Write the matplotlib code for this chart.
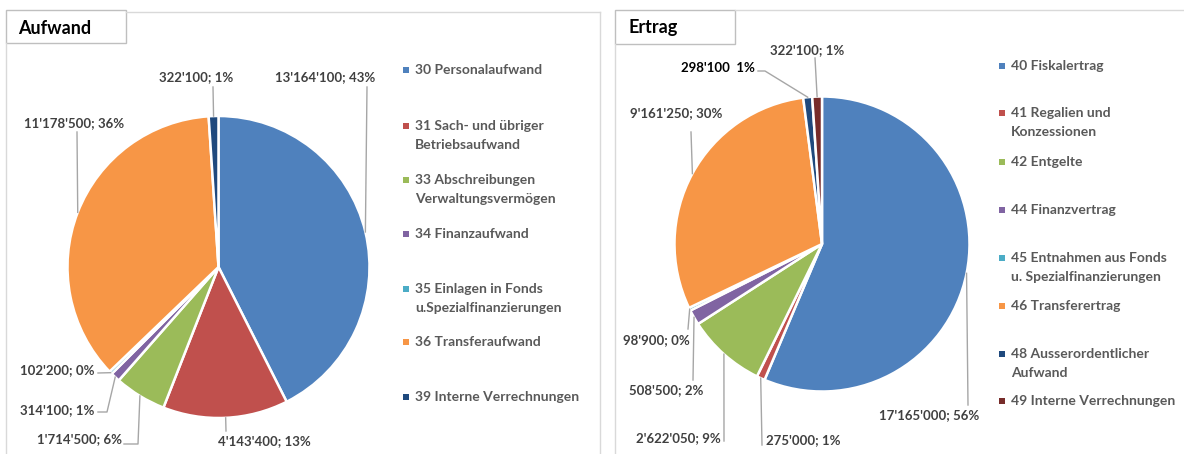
import matplotlib.pyplot as plt
from matplotlib.patches import Rectangle
import numpy as np

plt.rcParams['font.family'] = ['Lato', 'DejaVu Sans']

W, H = 1184, 454

# --- Daten ---
aufwand_names = ["30 Personalaufwand", "31 Sach- und übriger\nBetriebsaufwand",
                 "33 Abschreibungen\nVerwaltungsvermögen", "34 Finanzaufwand",
                 "35 Einlagen in Fonds\nu.Spezialfinanzierungen", "36 Transferaufwand",
                 "39 Interne Verrechnungen"]
aufwand_values = [13164100, 4143400, 1714500, 314100, 102200, 11178500, 322100]
aufwand_colors = ["#4F81BD", "#C0504D", "#9BBB59", "#8064A2", "#4BACC6", "#F79646", "#1F497D"]

ertrag_names = ["40 Fiskalertrag", "41 Regalien und\nKonzessionen", "42 Entgelte",
                "44 Finanzvertrag", "45 Entnahmen aus Fonds\nu. Spezialfinanzierungen",
                "46 Transferertrag", "48 Ausserordentlicher\nAufwand", "49 Interne Verrechnungen"]
ertrag_values = [17165000, 275000, 2622050, 508500, 98900, 9161250, 298100, 322100]
ertrag_colors = ["#4F81BD", "#C0504D", "#9BBB59", "#8064A2", "#4BACC6", "#F79646", "#1F497D", "#772C2A"]
ertrag_sep = ["; ", "; ", "; ", "; ", "; ", "; ", "  ", "; "]

# --- Layout (Pixel) ---
# Labelposition (x, y, ha) und Knickpunkte der Führungslinie
auf_lbl = [((325, 77, 'center'), [(367, 87)]),
           ((264, 441, 'center'), [(226, 431)]),
           ((122, 439, 'right'), [(124, 444), (138, 444)]),
           ((94, 410, 'right'), [(98, 412), (107, 412)]),
           ((94, 370, 'right'), [(98, 373)]),
           ((74, 123, 'center'), [(77, 132)]),
           ((196, 77, 'center'), [(213, 87)])]
ert_lbl = [((929, 415, 'center'), [(968, 405)]),
           ((766, 440, 'left'), [(762, 445)]),
           ((721, 438, 'right'), [(724, 441)]),
           ((703, 390, 'right'), [(693, 380)]),
           ((690, 340, 'right'), [(688, 329)]),
           ((676, 113, 'center'), [(691, 132)]),
           ((755, 68, 'right'), [(758, 71), (765, 71)]),
           ((807, 50, 'center'), [(815, 58)])]
auf_leg_y = [70, 126, 180, 234, 289, 342, 397]
ert_leg_y = [66, 113, 162, 210, 258, 306, 354, 401]

fig = plt.figure(figsize=(11.84, 4.54), dpi=100)


def fmt(v, total, sep="; "):
    return f"{v:,}".replace(",", "'") + sep + f"{round(100 * v / total)}%"


def draw_pie(cx, cy, r, values, colors):
    ax = fig.add_axes([(cx - r) / W, 1 - (cy + r) / H, 2 * r / W, 2 * r / H])
    wedges, _ = ax.pie(values, colors=colors, startangle=90, counterclock=False,
                       wedgeprops=dict(edgecolor='white', linewidth=1.8))
    ax.set_xlim(-1, 1)
    ax.set_ylim(-1, 1)
    mids = []
    for w in wedges:
        w.set_clip_on(False)
        a = np.deg2rad((w.theta1 + w.theta2) / 2)
        mids.append((cx + r * np.cos(a), cy - r * np.sin(a)))
    return mids


auf_mids = draw_pie(218.5, 267, 151, aufwand_values, aufwand_colors)
ert_mids = draw_pie(822, 244, 147.5, ertrag_values, ertrag_colors)

ov = fig.add_axes([0, 0, 1, 1])
ov.set_xlim(0, W)
ov.set_ylim(H, 0)
ov.axis('off')
ov.patch.set_visible(False)

# Rahmen
frame = "#D9D9D9"
ov.plot([6, 6], [43, H], color=frame, lw=1)
ov.plot([126, 600], [12, 12], color=frame, lw=1)
ov.plot([600, 600], [12, H], color=frame, lw=1)
ov.plot([615, 615], [44, H], color=frame, lw=1)
ov.plot([735, W], [10, 10], color=frame, lw=1)
ov.add_patch(Rectangle((6, 10), 120, 33, facecolor='white', edgecolor="#BFBFBF", lw=1))
ov.add_patch(Rectangle((615, 10), 120, 34, facecolor='white', edgecolor="#BFBFBF", lw=1))
ov.text(18, 28, "Aufwand", fontsize=13, fontweight='bold', va='center', color='black')
ov.text(628, 28, "Ertrag", fontsize=13, fontweight='bold', va='center', color='black')


def labels(mids, values, lbls, seps=None):
    total = sum(values)
    for i, ((x, y, ha), pts) in enumerate(lbls):
        sep = seps[i] if seps else "; "
        col = 'black' if sep == "  " else "#404040"
        ov.text(x, y, fmt(values[i], total, sep), fontsize=9.5, fontweight='bold',
                ha=ha, va='center', color=col)
        path = pts + [mids[i]]
        ov.plot([p[0] for p in path], [p[1] for p in path], color="#A6A6A6", lw=1)


def legend(names, colors, ys, mx, tx):
    for name, c, y in zip(names, colors, ys):
        ov.add_patch(Rectangle((mx - 3, y - 3), 6, 6, facecolor=c, edgecolor='none'))
        for j, line in enumerate(name.split("\n")):
            ov.text(tx, y + j * 19, line, fontsize=10, fontweight='bold',
                    va='center', color="#595959")


labels(auf_mids, aufwand_values, auf_lbl)
labels(ert_mids, ertrag_values, ert_lbl, ertrag_sep)
legend(aufwand_names, aufwand_colors, auf_leg_y, 406, 415)
legend(ertrag_names, ertrag_colors, ert_leg_y, 1002, 1011)

fig.savefig("out.png", dpi=100, facecolor='white')
